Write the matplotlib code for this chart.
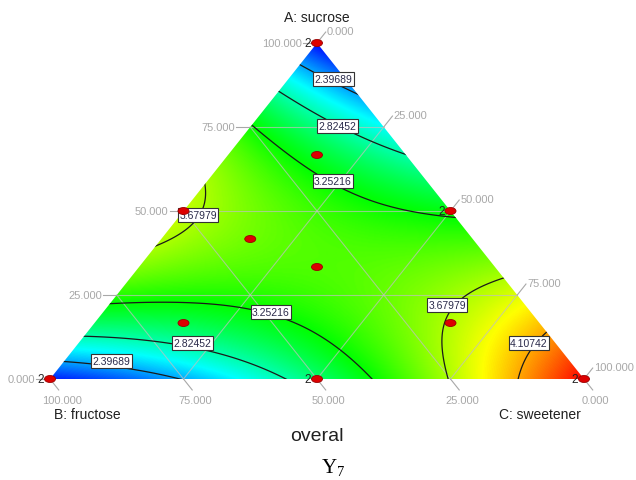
import numpy as np
import matplotlib
matplotlib.use("Agg")
import matplotlib.pyplot as plt
from matplotlib.colors import LinearSegmentedColormap
from matplotlib.patches import Polygon, Ellipse

plt.rcParams['font.family'] = ['Liberation Sans', 'DejaVu Sans']

# triangle corners in pixel space (A top, B left, C right)
VA = (317, 44)
VB = (50, 380)
VC = (584, 380)

# cubic mixture model: A, B, C, AB, AC, BC, AB(A-B), AC(A-C), BC(B-C), ABC
coef = [1.991, 2.052, 4.534, 6.862, -0.217, -1.287, -0.214, 0.521, -0.229, -0.185]

levels = [2.39689, 2.82452, 3.25216, 3.67979, 4.10742]
vmin, vmax = 1.96926, 4.53505

# design points (A, B, C) and replicate count
design = [(1, 0, 0), (0, 1, 0), (0, 0, 1), (0.5, 0.5, 0), (0.5, 0, 0.5), (0, 0.5, 0.5),
          (1/3, 1/3, 1/3), (2/3, 1/6, 1/6), (1/6, 2/3, 1/6), (1/6, 1/6, 2/3), (5/12, 5/12, 1/6)]
reps = [2, 2, 2, 1, 2, 2, 1, 1, 1, 1, 1]

# contour label spots (pixel) and their text
lab_xy = [(333, 80), (337, 127), (333, 182), (198, 216), (271, 313),
          (192, 344), (111, 362), (447, 306), (529, 344)]
lab_txt = ['2.39689', '2.82452', '3.25216', '3.67979', '3.25216',
           '2.82452', '2.39689', '3.67979', '4.10742']

ticks = [0, 25, 50, 75, 100]


def bary(x, y):
    a = (VB[1] - y) / (VB[1] - VA[1])
    b = (VA[0] * a + VC[0] * (1 - a) - x) / (VC[0] - VB[0])
    c = 1 - a - b
    return a, b, c


def terms(a, b, c):
    return np.stack([a, b, c, a * b, a * c, b * c,
                     a * b * (a - b), a * c * (a - c), b * c * (b - c), a * b * c], axis=-1)


def pt(a, b, c):
    return (a * VA[0] + b * VB[0] + c * VC[0], a * VA[1] + b * VB[1] + c * VC[1])


cmap = LinearSegmentedColormap.from_list('de', ['#0000ff', '#00ffff', '#00ff00', '#ffff00', '#ff0000'])

fig = plt.figure(figsize=(6.36, 4.81), dpi=100)
ax = fig.add_axes([0, 0, 1, 1])
ax.set_xlim(0, 636)
ax.set_ylim(481, 0)
ax.axis('off')

xs = np.linspace(40, 600, 561)
ys = np.linspace(35, 390, 356)
X, Y = np.meshgrid(xs, ys)
ga, gb, gc = bary(X, Y)
Z = terms(ga, gb, gc) @ np.array(coef)

tri = Polygon([VA, VB, VC], closed=True, facecolor='none', edgecolor='none')
ax.add_patch(tri)
im = ax.imshow(Z, extent=(40, 600, 390, 35), origin='upper', cmap=cmap,
               vmin=vmin, vmax=vmax, interpolation='bilinear')
im.set_clip_path(tri)

# grid lines at 25/50/75
for f in [0.25, 0.5, 0.75]:
    for p, q in [(pt(f, 1 - f, 0), pt(f, 0, 1 - f)),
                 (pt(1 - f, f, 0), pt(0, f, 1 - f)),
                 (pt(1 - f, 0, f), pt(0, 1 - f, f))]:
        ax.plot([p[0], q[0]], [p[1], q[1]], color='#c0c0c0', lw=0.8, alpha=0.7)

cs = ax.contour(X, Y, Z, levels=levels, colors='#1a1a1a', linewidths=0.9)
cs.set_clip_path(tri)

for (x, y), s in zip(lab_xy, lab_txt):
    ax.text(x, y, s, fontsize=7.5, color='#2a2a4a', ha='center', va='center', zorder=5,
            bbox=dict(boxstyle='square,pad=0.15', fc='white', ec='#333333', lw=0.8))

# axis ticks and labels
tcol = '#a8a8a8'
dl = (VA[0] - VB[0], VA[1] - VB[1])
dl = np.array(dl) / np.hypot(*dl)
dr = (VC[0] - VA[0], VC[1] - VA[1])
dr = np.array(dr) / np.hypot(*dr)
tl = 14
for t in ticks:
    f = t / 100
    # A on left edge
    x, y = pt(f, 1 - f, 0)
    ax.plot([x, x - tl], [y, y], color=tcol, lw=0.8)
    ax.text(x - tl - 1, y, '%.3f' % t, fontsize=8, color=tcol, ha='right', va='center')
    # C on right edge
    x, y = pt(1 - f, 0, f)
    ex, ey = x + dl[0] * tl, y + dl[1] * tl
    ax.plot([x, ex], [y, ey], color=tcol, lw=0.8)
    ax.text(ex + 1, ey - 1, '%.3f' % t, fontsize=8, color=tcol, ha='left', va='center')
    # B on bottom edge
    x, y = pt(0, f, 1 - f)
    ex, ey = x + dr[0] * tl, y + dr[1] * tl
    ax.plot([x, ex], [y, ey], color=tcol, lw=0.8)
    ax.text(ex + 3, ey + 10, '%.3f' % t, fontsize=8, color=tcol, ha='center', va='center')

# design points
for (a, b, c), r in zip(design, reps):
    x, y = pt(a, b, c)
    ax.add_patch(Ellipse((x, y), 11, 7, fc='#dd0000', ec='#990000', lw=0.6, zorder=6))
    if r > 1:
        ax.text(x - 6, y, str(r), fontsize=8.5, color='#222222', ha='right', va='center', zorder=7)

ax.text(317, 18, 'A: sucrose', fontsize=10, ha='center', va='center', color='#202020')
ax.text(87, 415, 'B: fructose', fontsize=10, ha='center', va='center', color='#202020')
ax.text(540, 415, 'C: sweetener', fontsize=10, ha='center', va='center', color='#202020')
ax.text(317, 437, 'overal', fontsize=14, ha='center', va='center', color='#202020')
ax.text(333, 468, r'Y$_\mathregular{7}$', fontsize=15, ha='center', va='center', color='black',
        family=['Liberation Serif', 'DejaVu Serif'])

fig.savefig('out.png', dpi=100)
